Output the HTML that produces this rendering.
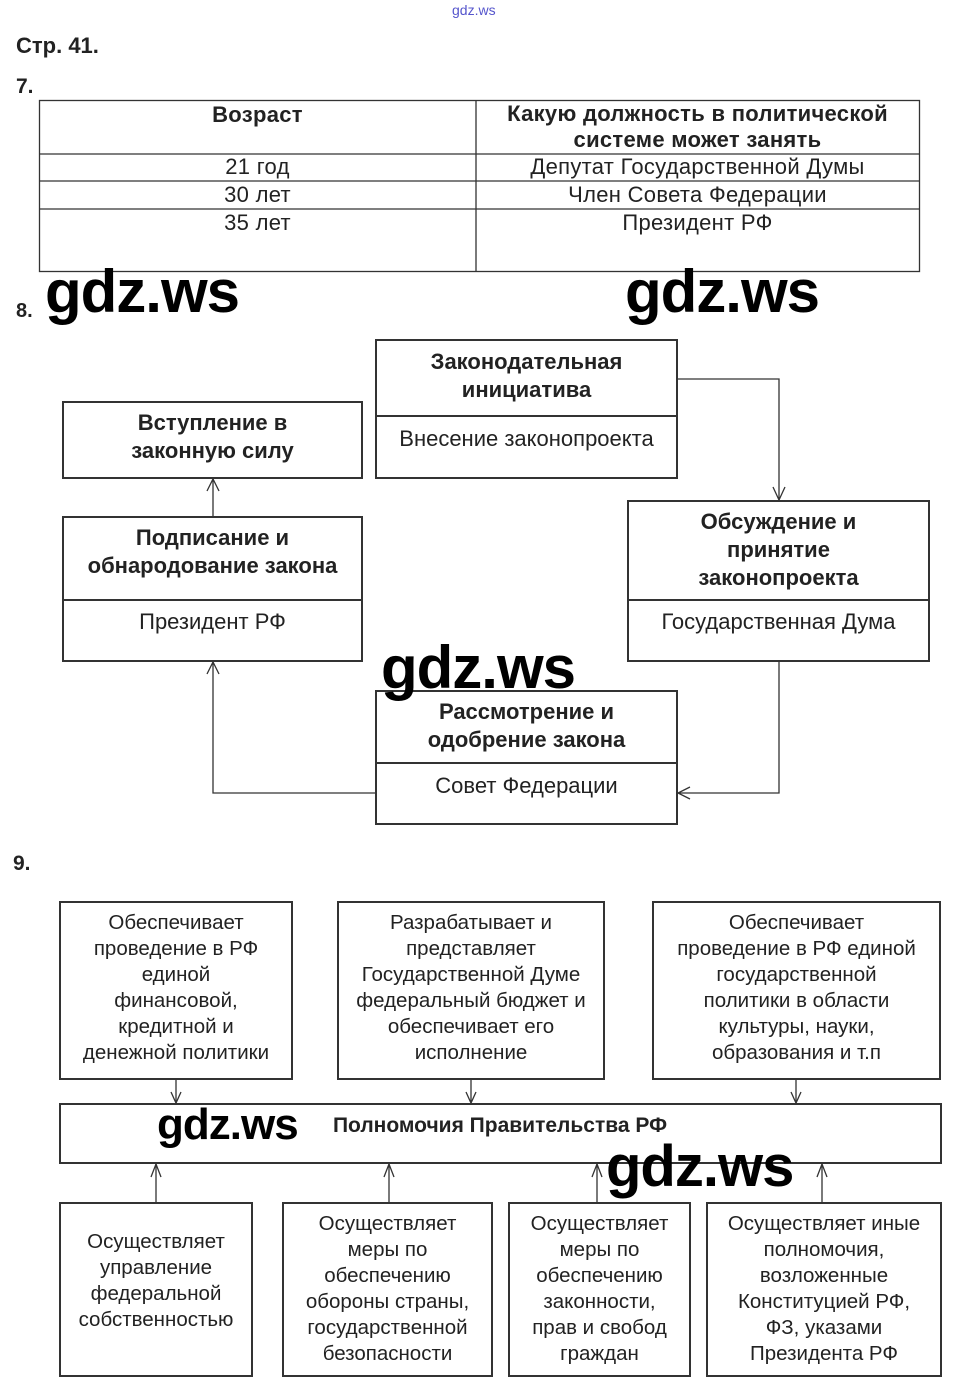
<!DOCTYPE html>
<html><head><meta charset="utf-8"><style>
body{margin:0;width:958px;height:1396px;background:#fff;position:relative;overflow:hidden;font-family:"Liberation Sans",Arial,sans-serif;color:#222}
.a{position:absolute}
.t{position:absolute;text-align:center;font-size:22px;line-height:28px;white-space:nowrap}
.bd{font-weight:bold}
.w{position:absolute;font-family:"Liberation Sans",sans-serif;color:#000;font-weight:bold;letter-spacing:-1px;line-height:1}
.n{font-size:20.5px;line-height:26px}
.tb{font-size:22px;letter-spacing:0.3px}
</style></head><body>
<div class="a" style="left:452px;top:2px;font-size:14px;color:#55c;">gdz.ws</div>
<div class="a bd" style="left:16px;top:33px;font-size:22px;">Стр. 41.</div>
<div class="a bd" style="left:16px;top:75px;font-size:21px;">7.</div>
<div class="a bd" style="left:16px;top:300px;font-size:20px;">8.</div>
<div class="a bd" style="left:13px;top:852px;font-size:21px;">9.</div>

<svg class="a" style="left:0;top:0" width="958" height="1396">
<g stroke="#333" stroke-width="1.3" fill="none">
<rect x="39.5" y="100.5" width="880" height="171"/>
<line x1="476" y1="100" x2="476" y2="271"/>
<line x1="39" y1="154" x2="919" y2="154"/>
<line x1="39" y1="181" x2="919" y2="181"/>
<line x1="39" y1="209" x2="919" y2="209"/>
<polyline points="677,379 779,379 779,500"/>
<polyline points="773,487 779,500 785,487"/>
<polyline points="779,661 779,793 678,793"/>
<polyline points="690,787 678,793 690,799"/>
<polyline points="376,793 213,793 213,662"/>
<polyline points="207,674 213,662 219,674"/>
<line x1="213" y1="517" x2="213" y2="479"/>
<polyline points="207,491 213,479 219,491"/>
<line x1="176" y1="1079" x2="176" y2="1103"/><polyline points="171,1092 176,1103 181,1092"/>
<line x1="471" y1="1079" x2="471" y2="1103"/><polyline points="466,1092 471,1103 476,1092"/>
<line x1="796" y1="1079" x2="796" y2="1103"/><polyline points="791,1092 796,1103 801,1092"/>
<line x1="156" y1="1203" x2="156" y2="1164"/><polyline points="151,1177 156,1164 161,1177"/>
<line x1="389" y1="1203" x2="389" y2="1164"/><polyline points="384,1177 389,1164 394,1177"/>
<line x1="597" y1="1203" x2="597" y2="1164"/><polyline points="592,1177 597,1164 602,1177"/>
<line x1="822" y1="1203" x2="822" y2="1164"/><polyline points="817,1177 822,1164 827,1177"/>
</g>
<g stroke="#333" stroke-width="2" fill="none">
<rect x="376" y="340" width="301" height="138"/><line x1="376" y1="416" x2="677" y2="416"/>
<rect x="63" y="402" width="299" height="76"/>
<rect x="63" y="517" width="299" height="144"/><line x1="63" y1="600" x2="362" y2="600"/>
<rect x="628" y="501" width="301" height="160"/><line x1="628" y1="600" x2="929" y2="600"/>
<rect x="376" y="691" width="301" height="133"/><line x1="376" y1="763" x2="677" y2="763"/>
<rect x="60" y="902" width="232" height="177"/>
<rect x="338" y="902" width="266" height="177"/>
<rect x="653" y="902" width="287" height="177"/>
<rect x="60" y="1104" width="881" height="59"/>
<rect x="60" y="1203" width="192" height="173"/>
<rect x="283" y="1203" width="209" height="173"/>
<rect x="509" y="1203" width="181" height="173"/>
<rect x="707" y="1203" width="234" height="173"/>
</g></svg>

<div class="t bd tb" style="left:39px;top:101px;width:437px;">Возраст</div>
<div class="t bd tb" style="left:476px;top:101px;width:443px;line-height:26px;">Какую должность в политической<br>системе может занять</div>
<div class="t tb" style="left:39px;top:153px;width:437px;">21 год</div>
<div class="t tb" style="left:476px;top:153px;width:443px;">Депутат Государственной Думы</div>
<div class="t tb" style="left:39px;top:181px;width:437px;">30 лет</div>
<div class="t tb" style="left:476px;top:181px;width:443px;">Член Совета Федерации</div>
<div class="t tb" style="left:39px;top:209px;width:437px;">35 лет</div>
<div class="t tb" style="left:476px;top:209px;width:443px;">Президент РФ</div>

<div class="t bd" style="left:376px;top:348px;width:301px;">Законодательная<br>инициатива</div>
<div class="t" style="left:376px;top:425px;width:301px;">Внесение законопроекта</div>
<div class="t bd" style="left:63px;top:409px;width:299px;">Вступление в<br>законную силу</div>
<div class="t bd" style="left:63px;top:524px;width:299px;">Подписание и<br>обнародование закона</div>
<div class="t" style="left:63px;top:608px;width:299px;">Президент РФ</div>
<div class="t bd" style="left:628px;top:508px;width:301px;">Обсуждение и<br>принятие<br>законопроекта</div>
<div class="t" style="left:628px;top:608px;width:301px;">Государственная Дума</div>
<div class="t bd" style="left:376px;top:698px;width:301px;">Рассмотрение и<br>одобрение закона</div>
<div class="t" style="left:376px;top:772px;width:301px;">Совет Федерации</div>

<div class="t n" style="left:60px;top:910px;width:232px;">Обеспечивает<br>проведение в РФ<br>единой<br>финансовой,<br>кредитной и<br>денежной политики</div>
<div class="t n" style="left:338px;top:910px;width:266px;">Разрабатывает и<br>представляет<br>Государственной Думе<br>федеральный бюджет и<br>обеспечивает его<br>исполнение</div>
<div class="t n" style="left:653px;top:910px;width:287px;">Обеспечивает<br>проведение в РФ единой<br>государственной<br>политики в области<br>культуры, науки,<br>образования и т.п</div>
<div class="t bd" style="left:300px;top:1112px;width:400px;font-size:21px;">Полномочия Правительства РФ</div>
<div class="t n" style="left:60px;top:1229px;width:192px;">Осуществляет<br>управление<br>федеральной<br>собственностью</div>
<div class="t n" style="left:283px;top:1211px;width:209px;">Осуществляет<br>меры по<br>обеспечению<br>обороны страны,<br>государственной<br>безопасности</div>
<div class="t n" style="left:509px;top:1211px;width:181px;">Осуществляет<br>меры по<br>обеспечению<br>законности,<br>прав и свобод<br>граждан</div>
<div class="t n" style="left:707px;top:1211px;width:234px;">Осуществляет иные<br>полномочия,<br>возложенные<br>Конституцией РФ,<br>ФЗ, указами<br>Президента РФ</div>

<div class="a" style="left:620px;top:250px;width:170px;height:20px;background:#fff"></div>
<div class="w" style="left:45px;top:262px;font-size:60px;">gdz.ws</div>
<div class="w" style="left:625px;top:262px;font-size:60px;">gdz.ws</div>
<div class="w" style="left:381px;top:638px;font-size:60px;">gdz.ws</div>
<div class="w" style="left:157px;top:1103px;font-size:44px;">gdz.ws</div>
<div class="w" style="left:606px;top:1138px;font-size:58px;">gdz.ws</div>
</body></html>
